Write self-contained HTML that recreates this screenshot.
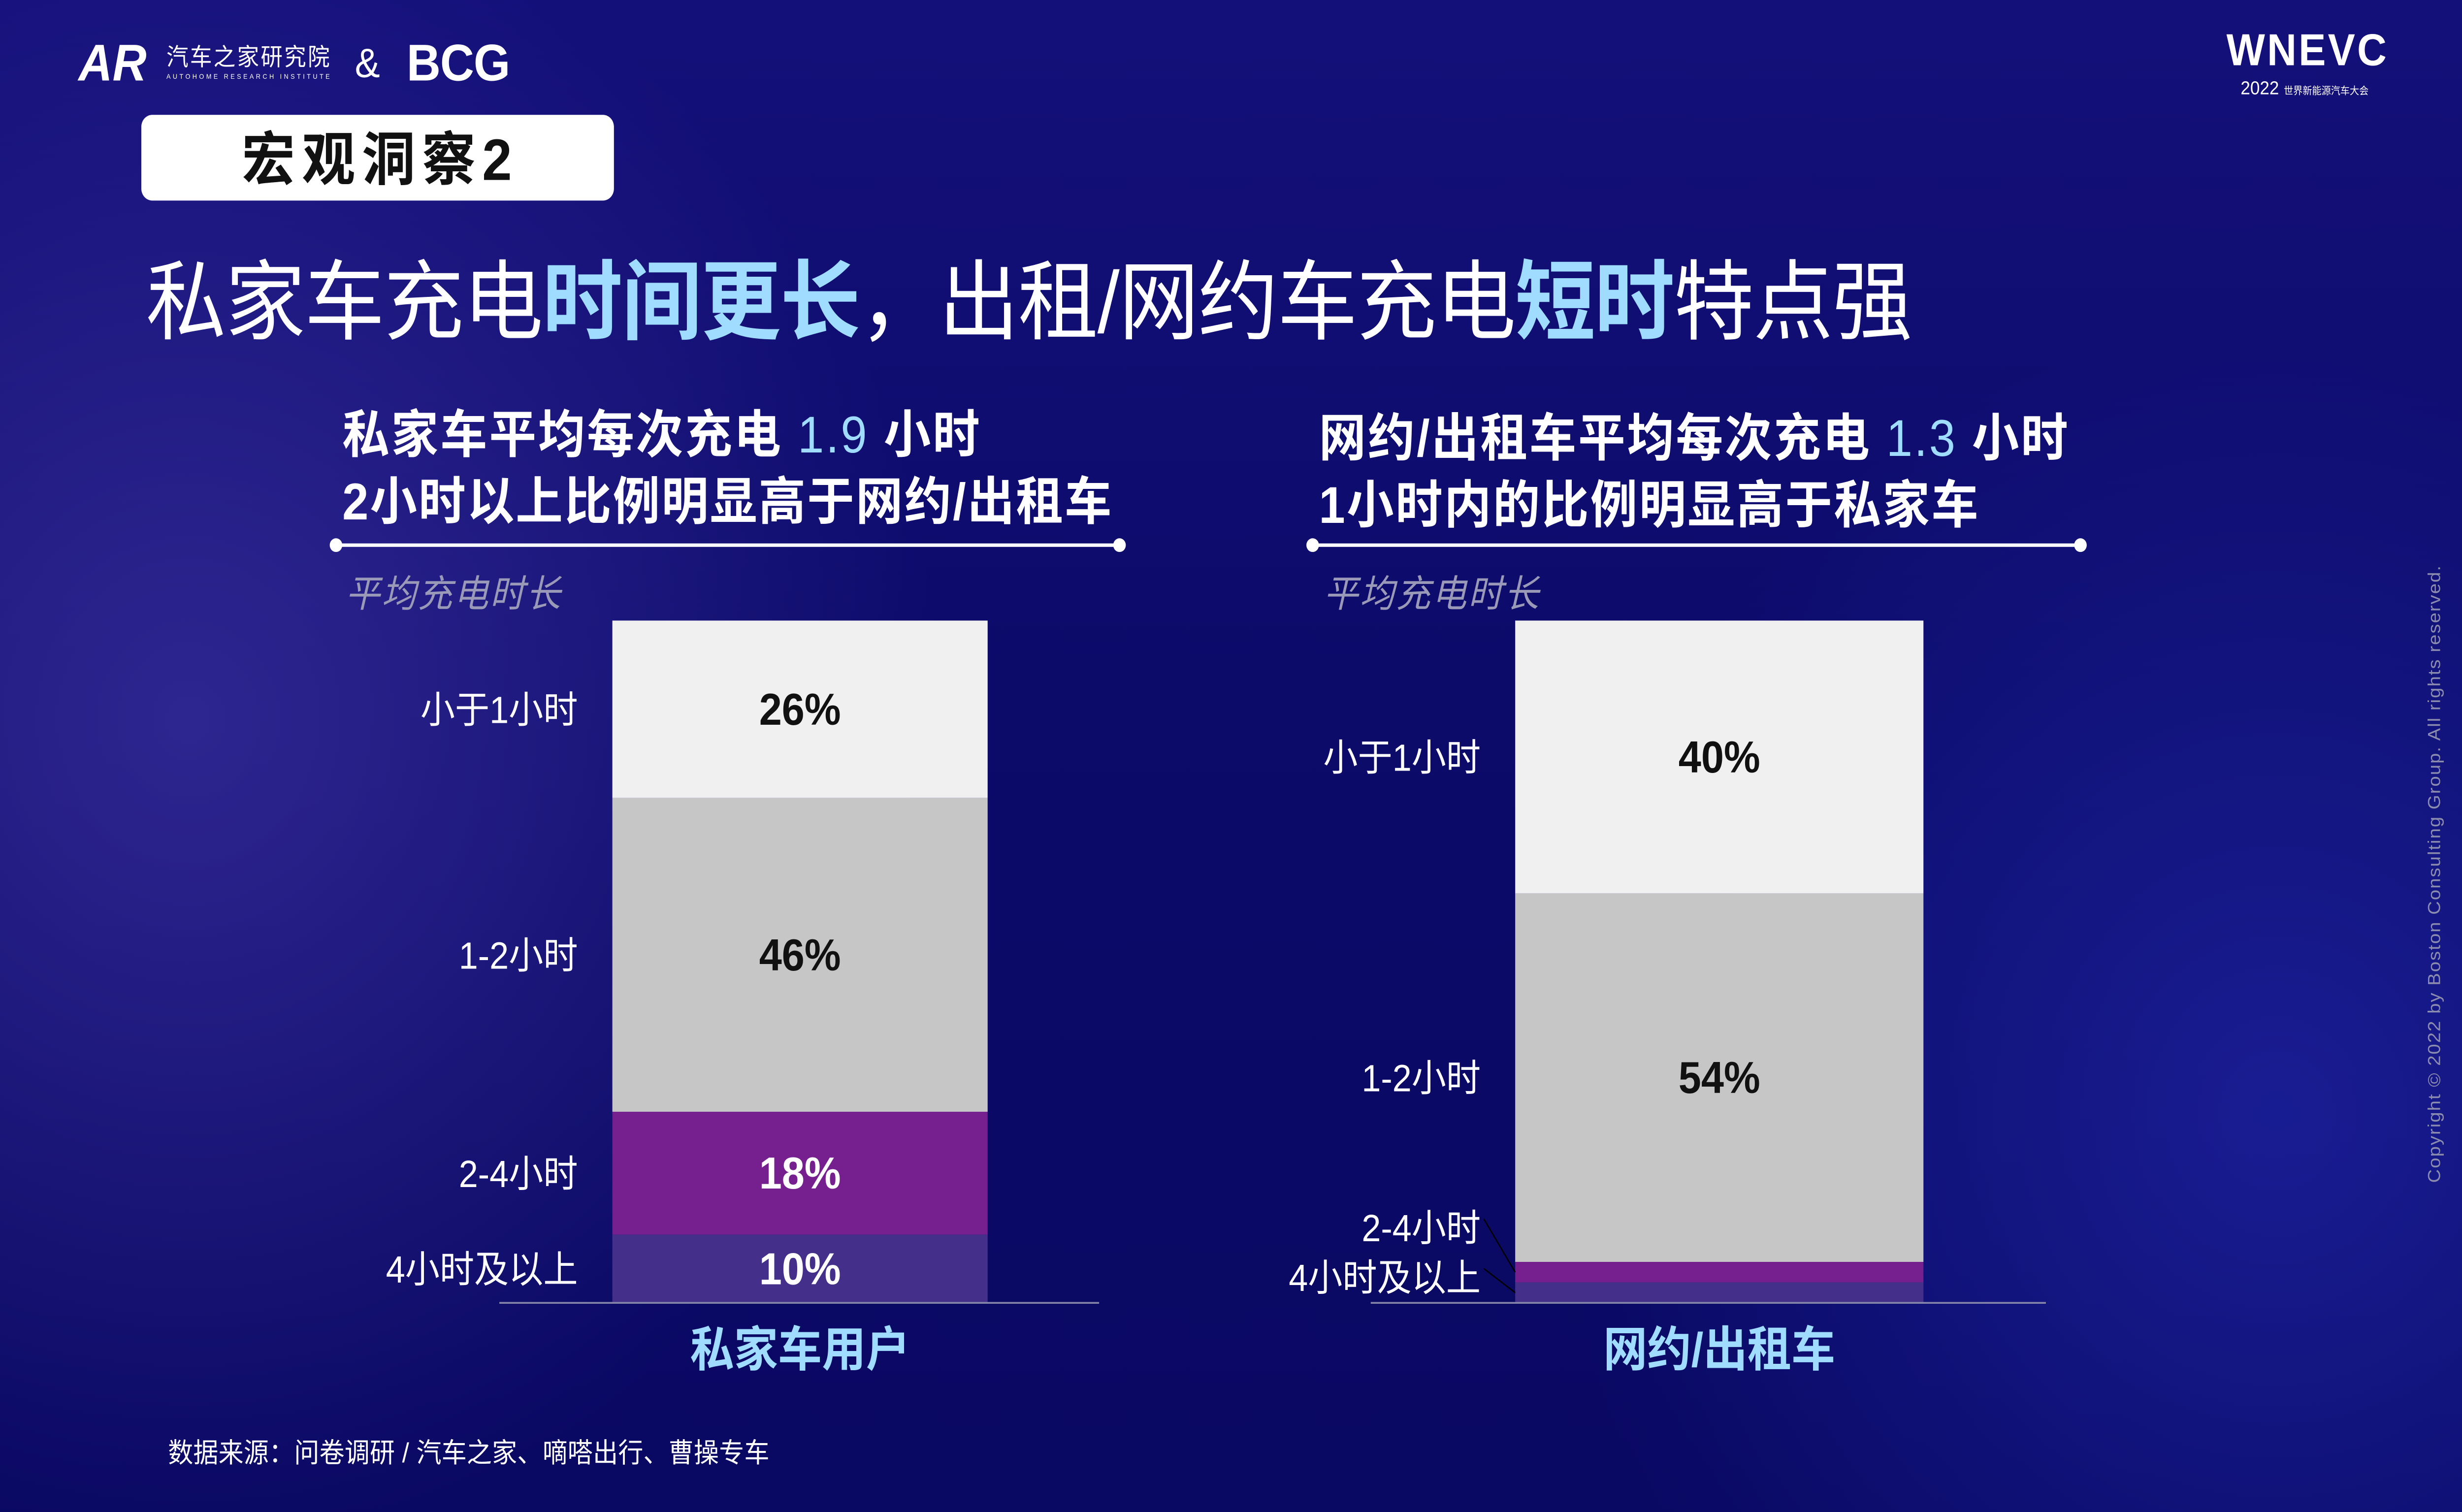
<!DOCTYPE html>
<html><head><meta charset="utf-8">
<style>
html,body{margin:0;padding:0;overflow:hidden;width:100%;height:100%;}
body{background:#0b0a62;}
svg text{font-family:"Liberation Sans","Noto Sans CJK SC",sans-serif;}
</style></head><body>
<svg id="chart" viewBox="0 0 1568 882" preserveAspectRatio="none" style="position:fixed;left:0;top:0;width:100vw;height:100vh;display:block">
<defs>
<linearGradient id="bg" x1="0" y1="0" x2="0" y2="1"><stop offset="0" stop-color="#14107a"/><stop offset="0.45" stop-color="#0c0b6a"/><stop offset="1" stop-color="#090862"/></linearGradient>
<radialGradient id="g1" cx="120" cy="420" r="480" gradientUnits="userSpaceOnUse"><stop offset="0" stop-color="#4a3cb0" stop-opacity=".55"/><stop offset="1" stop-color="#4a3cb0" stop-opacity="0"/></radialGradient>
<radialGradient id="g2" cx="1450" cy="650" r="460" gradientUnits="userSpaceOnUse"><stop offset="0" stop-color="#2a34c8" stop-opacity=".45"/><stop offset="1" stop-color="#2a34c8" stop-opacity="0"/></radialGradient>
</defs>
<rect width="1568" height="882" fill="url(#bg)"/>
<rect width="1568" height="882" fill="url(#g1)"/>
<rect width="1568" height="882" fill="url(#g2)"/>
<text x="50" y="47" font-size="30" font-weight="bold" font-style="italic" fill="#fff">AR</text>
<text x="106" y="38" font-size="14" fill="#fff" textLength="104">汽车之家研究院</text>
<text x="106" y="46" font-size="4" fill="#fff" textLength="104">AUTOHOME RESEARCH INSTITUTE</text>
<text x="226" y="45" font-size="24" fill="#fff">&amp;</text>
<text x="259" y="47" font-size="30" font-weight="bold" fill="#fff" textLength="66">BCG</text>
<text x="1418" y="38" font-size="26" font-weight="bold" fill="#fff" textLength="102">WNEVC</text>
<text x="1427" y="55" font-size="11" fill="#fff">2022 <tspan font-size="6">世界新能源汽车大会</tspan></text>
<rect x="90" y="67" width="301" height="50" rx="7" fill="#fff"/>
<text x="240" y="105" font-size="34" font-weight="bold" fill="#111" text-anchor="middle" textLength="172">宏观洞察2</text>
<text x="93" y="194" font-size="51" fill="#fff" textLength="1125">私家车充电<tspan fill="#9fdcff" font-weight="bold">时间更长</tspan>，出租/网约车充电<tspan fill="#9fdcff" font-weight="bold">短时</tspan>特点强</text>
<text x="218" y="264" font-size="30" font-weight="bold" fill="#fff" textLength="406">私家车平均每次充电 <tspan fill="#9fdcff" font-weight="normal">1.9</tspan> 小时</text>
<text x="218" y="303" font-size="30" font-weight="bold" fill="#fff" textLength="490">2小时以上比例明显高于网约/出租车</text>
<text x="840" y="266" font-size="30" font-weight="bold" fill="#fff" textLength="477">网约/出租车平均每次充电 <tspan fill="#9fdcff" font-weight="normal">1.3</tspan> 小时</text>
<text x="840" y="305" font-size="30" font-weight="bold" fill="#fff" textLength="420">1小时内的比例明显高于私家车</text>
<text x="220" y="354" font-size="22" font-style="italic" fill="#9a9ab8" textLength="137">平均充电时长</text>
<text x="843" y="354" font-size="22" font-style="italic" fill="#9a9ab8" textLength="137">平均充电时长</text>
<text x="107" y="853" font-size="16" fill="#fff" textLength="383">数据来源：问卷调研 / 汽车之家、嘀嗒出行、曹操专车</text>
<text x="0" y="0" font-size="11" fill="#8c8cae" text-anchor="middle" textLength="360" transform="translate(1554,510) rotate(-90)">Copyright © 2022 by Boston Consulting Group. All rights reserved.</text>
</svg>
<script>
const categories=["小于1小时","1-2小时","2-4小时","4小时及以上"];
const privateVals=[26,46,18,10];
const rideVals=[40,54,3,3];
const groupNames=["私家车用户","网约/出租车"];
const colors=["#f0f0f0","#c6c6c6","#76208f","#44308a"];
const NS="http://www.w3.org/2000/svg";
const svg=document.getElementById('chart');
function mk(t,a){const e=document.createElementNS(NS,t);for(const k in a)e.setAttribute(k,a[k]);svg.appendChild(e);return e;}
const top0=362,bot0=760;
function y(v){return bot0-(v/100)*(bot0-top0);}
[[214,713],[836,1325]].forEach(function(p){
 const l=mk('line',{x1:p[0],x2:p[1],y1:318,y2:318,stroke:'#fff','stroke-width':2});
 
 
 [p[0],p[1]].forEach(function(x){const c=mk('circle',{cx:x,cy:318,r:4,fill:'#fff'});
 
 });
});
function drawBar(vals,x0,w,labX,baseX1,baseX2,nameIdx,smallMode){
 let cum=100;
 vals.forEach(function(v,i){
  const yt=y(cum),yb=y(cum-v);cum-=v;
  const r=mk('rect',{x:x0,y:yt,width:w,height:yb-yt,fill:colors[i]});
  
  
  const mid=(yt+yb)/2;
  let ly=mid;
  if(smallMode&&v<8){ly=(i===2)?716:745;
   const ld=mk('line',{x1:labX+2,y1:ly-5,x2:x0,y2:mid,stroke:'#000','stroke-width':0.8});
   
   }
  const t=mk('text',{x:labX,y:ly+8,'text-anchor':'end','font-size':22,fill:'#fff'});
  t.textContent=categories[i];
  
  
  if(v>=8){const vt=mk('text',{x:x0+w/2,y:mid+9,'text-anchor':'middle','font-size':26,'font-weight':'bold',fill:i>=2?'#fff':'#111'});
   vt.textContent=v+'%';
   
   }
 });
 const lb=mk('line',{x1:baseX1,x2:baseX2,y1:bot0,y2:bot0,stroke:'#8888aa','stroke-width':1});
 
 
 const n=mk('text',{x:x0+w/2,y:797,'text-anchor':'middle','font-size':28,'font-weight':'bold',fill:'#9fdcff'});
 n.textContent=groupNames[nameIdx];
 
 
}
drawBar(privateVals,390,239,368,318,700,0,false);
drawBar(rideVals,965,260,943,873,1303,1,true);
</script>
</body></html>
